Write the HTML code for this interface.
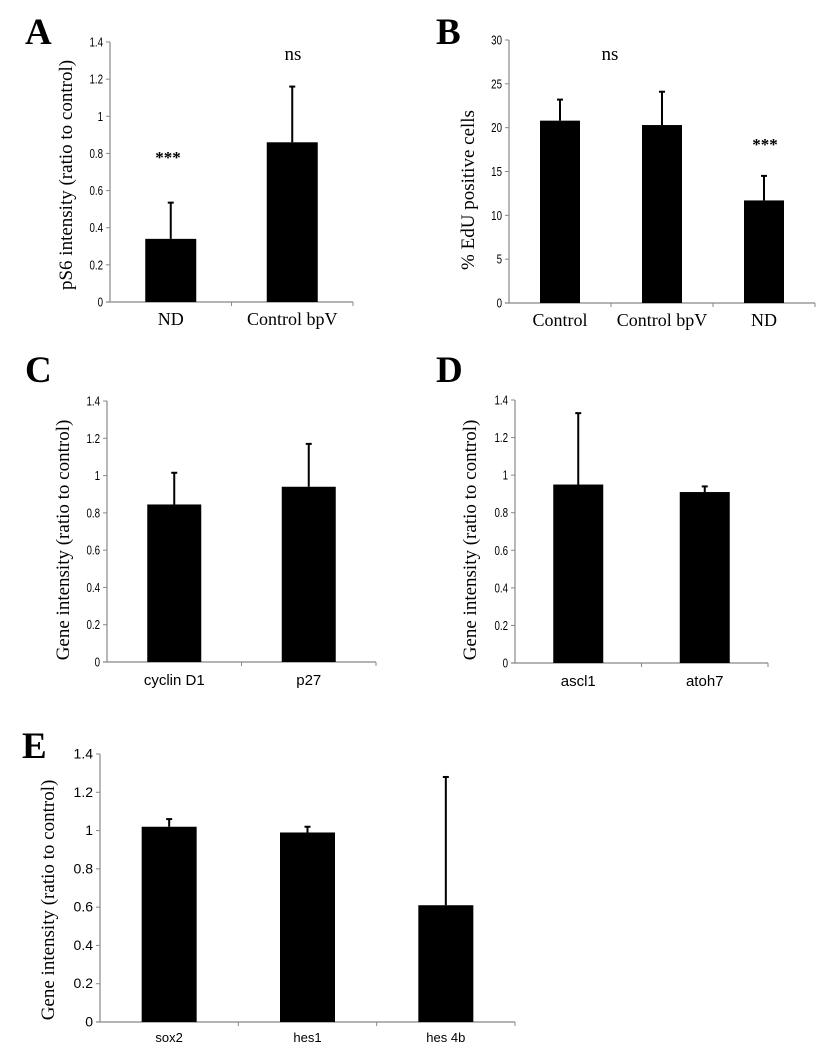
<!DOCTYPE html>
<html><head><meta charset="utf-8"><style>
body{margin:0;background:#fff;}
svg text{fill:#000}
.serif{font-family:"Liberation Serif",serif}
.sans{font-family:"Liberation Sans",sans-serif}
</style></head><body>
<svg id="fig" width="836" height="1054" xmlns="http://www.w3.org/2000/svg"></svg>
<script>
const NS="http://www.w3.org/2000/svg";
const svg=document.getElementById('fig');
// Panel data
const catsA=["ND","Control bpV"]; const valsA=[0.34,0.86]; const errA=[0.535,1.16]; const ticksA=[0,0.2,0.4,0.6,0.8,1,1.2,1.4];
const catsB=["Control","Control bpV","ND"]; const valsB=[20.8,20.3,11.7]; const errB=[23.2,24.1,14.5]; const ticksB=[0,5,10,15,20,25,30];
const catsC=["cyclin D1","p27"]; const valsC=[0.845,0.94]; const errC=[1.015,1.17]; const ticksC=[0,0.2,0.4,0.6,0.8,1,1.2,1.4];
const catsD=["ascl1","atoh7"]; const valsD=[0.95,0.91]; const errD=[1.33,0.94]; const ticksD=[0,0.2,0.4,0.6,0.8,1,1.2,1.4];
const catsE=["sox2","hes1","hes 4b"]; const valsE=[1.02,0.99,0.61]; const errE=[1.06,1.02,1.28]; const ticksE=[0,0.2,0.4,0.6,0.8,1,1.2,1.4];

function el(tag,attrs,parent){const e=document.createElementNS(NS,tag);for(const k in attrs)e.setAttribute(k,attrs[k]);(parent||svg).appendChild(e);return e;}
function txt(s,attrs,parent){const t=el('text',attrs,parent);t.textContent=s;return t;}

function panel(o){
  const g=el('g',{});
  
  
  const ymax=o.ticks[o.ticks.length-1];
  const ys=v=>o.y0-(v/ymax)*(o.y0-o.yTop);
  const n=o.cats.length; const slot=(o.x1-o.x0)/n;
  const xc=i=>o.x0+slot*(i+0.5);
  const L=txt(o.id,{x:o.lx,y:o.ly,class:'serif','font-size':37,'font-weight':'bold'},g);
  
  
  const ya=el('line',{x1:o.x0,y1:o.yTop,x2:o.x0,y2:o.y0,stroke:'#888','stroke-width':1.2},g);
  
  
  const xa=el('line',{x1:o.x0-4,y1:o.y0,x2:o.x1,y2:o.y0,stroke:'#888','stroke-width':1.2},g);
  
  
  for(let i=1;i<=n;i++){el('line',{x1:o.x0+slot*i,y1:o.y0,x2:o.x0+slot*i,y2:o.y0+4,stroke:'#888','stroke-width':1},g);}
  o.ticks.forEach(t=>{
    el('line',{x1:o.x0-4,y1:ys(t),x2:o.x0,y2:ys(t),stroke:'#888','stroke-width':1},g);
    const tl=txt(String(t),{x:o.x0-7,y:ys(t)+4.5,'text-anchor':'end',class:'sans','font-size':o.tfs,transform:o.cond?`translate(${(o.x0-7)*0.25},0) scale(0.75,1)`:''},g);
    
    
  });
  o.cats.forEach((c,i)=>{
    const cx=xc(i), v=o.vals[i], e=o.errs[i];
    const eb=el('line',{x1:cx,y1:ys(e),x2:cx,y2:ys(v),stroke:'#000','stroke-width':2},g);
    
    
    el('line',{x1:cx-3,y1:ys(e),x2:cx+3,y2:ys(e),stroke:'#000','stroke-width':2},g);
    const r=el('rect',{x:cx-o.bw/2,y:ys(v),width:o.bw,height:o.y0-ys(v),fill:'#000'},g);
    
    
    const cl=txt(c,{x:cx,y:o.y0+o.cdy,'text-anchor':'middle',class:o.cserif?'serif':'sans','font-size':o.cfs},g);
    
    
  });
  const yt=txt(o.ytitle,{x:0,y:0,'text-anchor':'middle',class:'serif','font-size':o.yfs,transform:`translate(${o.ytx},${o.yty}) rotate(-90)`},g);
  
  
  (o.notes||[]).forEach(nt=>{
    const a=txt(nt.t,{x:nt.x,y:nt.y,'text-anchor':'middle',class:'serif','font-size':nt.fs,'font-weight':nt.b?'bold':'normal'},g);
    
    
  });
}
panel({id:'A',lx:25,ly:44,x0:110,x1:353,yTop:42,y0:302,ticks:ticksA,cats:catsA,vals:valsA,errs:errA,bw:51,tfs:13,cond:true,cfs:18,cserif:true,cdy:23,ytitle:'pS6 intensity (ratio to control)',yfs:19,ytx:72,yty:175,notes:[{t:'ns',x:293,y:60,fs:19},{t:'***',x:168,y:163,fs:17,b:true}]});
panel({id:'B',lx:436,ly:44,x0:509,x1:815,yTop:40,y0:303,ticks:ticksB,cats:catsB,vals:valsB,errs:errB,bw:40,tfs:13,cond:true,cfs:18,cserif:true,cdy:23,ytitle:'% EdU positive cells',yfs:19,ytx:474,yty:190,notes:[{t:'ns',x:610,y:60,fs:19},{t:'***',x:765,y:150,fs:17,b:true}]});
panel({id:'C',lx:25,ly:382,x0:107,x1:376,yTop:401,y0:662,ticks:ticksC,cats:catsC,vals:valsC,errs:errC,bw:54,tfs:13,cond:true,cfs:15,cserif:false,cdy:23,ytitle:'Gene intensity (ratio to control)',yfs:19,ytx:69,yty:540,notes:[]});
panel({id:'D',lx:436,ly:382,x0:515,x1:768,yTop:400,y0:663,ticks:ticksD,cats:catsD,vals:valsD,errs:errD,bw:50,tfs:13,cond:true,cfs:15,cserif:false,cdy:23,ytitle:'Gene intensity (ratio to control)',yfs:19,ytx:476,yty:540,notes:[]});
panel({id:'E',lx:22,ly:758,x0:100,x1:515,yTop:754,y0:1022,ticks:ticksE,cats:catsE,vals:valsE,errs:errE,bw:55,tfs:14,cond:false,cfs:13,cserif:false,cdy:20,ytitle:'Gene intensity (ratio to control)',yfs:19,ytx:54,yty:900,notes:[]});
</script>
</body></html>
